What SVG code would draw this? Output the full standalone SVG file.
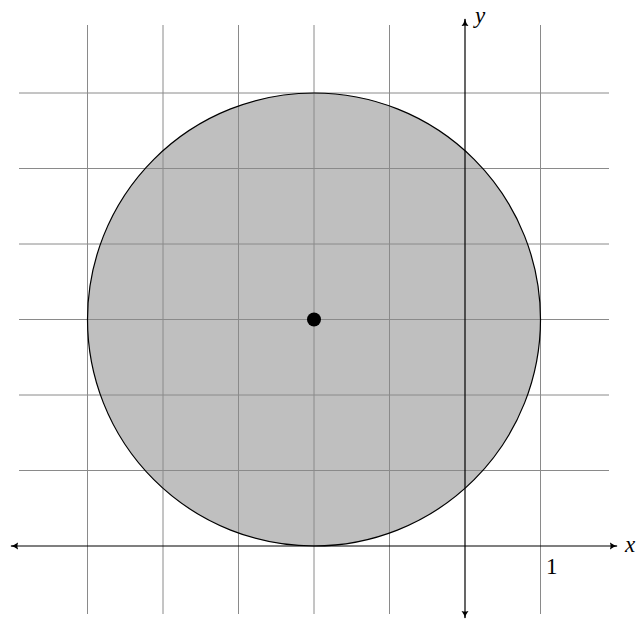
<svg xmlns="http://www.w3.org/2000/svg" width="637" height="620" viewBox="0 0 637 620">
<style>
.grid{stroke:#8a8a8a;stroke-width:1;fill:none}
.axis{stroke:#000;stroke-width:1.2;fill:none}
.lbl{font-family:"Liberation Serif","DejaVu Serif",serif;font-size:23px;fill:#000}
.it{font-style:italic}
</style>
<defs>
<marker id="arr" viewBox="0 0 10 10" refX="9" refY="5" markerWidth="8" markerHeight="8" markerUnits="userSpaceOnUse" orient="auto">
<path d="M0,0.5 Q4,4 10,5 Q4,6 0,9.5 Q2,5 0,0.5 Z" fill="#000"/>
</marker>
</defs>
<g id="disk-fill">
<circle cx="314" cy="319.5" r="226.5" fill="#bfbfbf"/>
</g>
<g id="grid">
<path class="grid" d="M87.5,25V614M163,25V614M238.5,25V614M314,25V614M389.5,25V614M540.5,25V614M19,93H609M19,168.5H609M19,244H609M19,319.5H609M19,395H609M19,470.5H609"/>
</g>
<g id="disk">
<circle cx="314" cy="319.5" r="226.5" fill="none" stroke="#000" stroke-width="1.2"/>
</g>
<g id="connectors">
<line class="axis" x1="465" y1="546" x2="617" y2="546" marker-end="url(#arr)"/>
<line class="axis" x1="465" y1="546" x2="11" y2="546" marker-end="url(#arr)"/>
<line class="axis" x1="465" y1="546" x2="465" y2="19" marker-end="url(#arr)"/>
<line class="axis" x1="465" y1="546" x2="465" y2="618" marker-end="url(#arr)"/>
</g>
<g id="center">
<circle cx="314" cy="319.5" r="7" fill="#000"/>
</g>
<g id="labels">
<text class="lbl it" x="475" y="23">y</text>
<text class="lbl it" x="625" y="552">x</text>
<text class="lbl" x="546" y="574">1</text>
</g>
</svg>
